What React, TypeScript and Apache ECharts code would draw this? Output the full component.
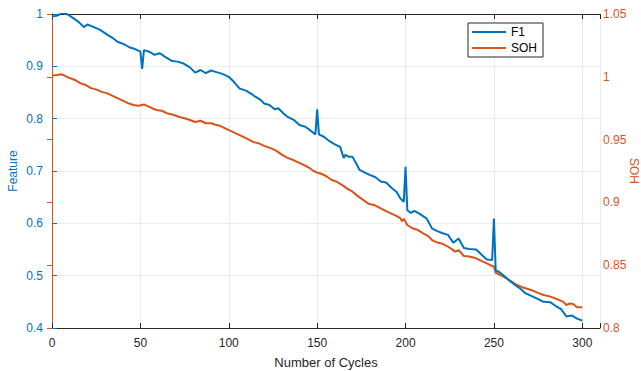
import React, { useEffect, useRef } from "react";
import * as echarts from "echarts";

const f1Cycles = [0,3,6,9,12,15,18,20,23,27,31,34,37,41,44,47,50,51,52,55,58,61,64,68,71,74,78,81,84,87,90,93,96,100,103,106,110,113,115,118,120,123,126,128,131,133,137,140,143,146,149,150,151,154,157,160,163,165,166,168,170,172,174,177,180,183,186,189,192,195,197,199,200,201,203,205,208,212,215,218,221,224,227,230,233,236,240,243,246,249,250,251,253,256,259,262,265,268,272,275,278,282,285,288,291,294,297,300];
const f1Values = [0.995,0.997,1.002,0.999,0.992,0.985,0.975,0.980,0.976,0.970,0.961,0.955,0.947,0.942,0.936,0.933,0.928,0.895,0.931,0.928,0.922,0.925,0.918,0.910,0.909,0.906,0.898,0.888,0.893,0.887,0.892,0.889,0.886,0.880,0.870,0.858,0.853,0.847,0.842,0.836,0.829,0.826,0.818,0.820,0.810,0.804,0.797,0.788,0.785,0.778,0.770,0.818,0.770,0.765,0.757,0.751,0.746,0.725,0.731,0.727,0.727,0.715,0.702,0.697,0.692,0.688,0.680,0.678,0.668,0.660,0.648,0.641,0.708,0.625,0.620,0.624,0.618,0.609,0.590,0.585,0.581,0.578,0.563,0.571,0.553,0.551,0.550,0.540,0.531,0.530,0.609,0.510,0.507,0.499,0.490,0.482,0.475,0.466,0.460,0.455,0.450,0.449,0.442,0.436,0.422,0.424,0.418,0.414];

const sohCycles = [0,3,5,7,10,13,16,19,22,25,28,31,34,37,40,43,46,49,52,55,59,62,65,69,72,75,78,81,84,87,90,92,95,98,101,104,107,110,114,117,120,124,127,130,133,136,139,142,145,148,150,152,155,158,161,164,167,170,173,176,179,182,186,189,192,195,197,198,199,201,204,207,210,213,215,218,221,224,226,228,230,233,236,239,242,245,248,250,251,254,257,260,263,267,271,275,278,282,286,289,291,293,295,297,300];
const sohValues = [1.001,1.0015,1.002,1.001,0.999,0.9975,0.995,0.9935,0.991,0.990,0.988,0.987,0.985,0.983,0.981,0.979,0.9775,0.977,0.978,0.976,0.9736,0.973,0.971,0.9696,0.968,0.967,0.9656,0.964,0.965,0.963,0.963,0.962,0.961,0.959,0.957,0.955,0.953,0.951,0.948,0.947,0.945,0.943,0.941,0.938,0.9356,0.934,0.932,0.930,0.928,0.925,0.9237,0.923,0.921,0.918,0.9165,0.914,0.911,0.9085,0.905,0.902,0.899,0.898,0.8953,0.893,0.891,0.889,0.8874,0.885,0.887,0.882,0.8794,0.878,0.8754,0.873,0.870,0.868,0.867,0.8647,0.863,0.8608,0.862,0.8573,0.857,0.856,0.854,0.852,0.850,0.849,0.844,0.842,0.8396,0.837,0.8342,0.832,0.8303,0.828,0.8263,0.825,0.8228,0.821,0.8183,0.8195,0.819,0.8165,0.8165];

const xTicks = [0, 50, 100, 150, 200, 250, 300];
const seriesNames = ["F1", "SOH"];

const BLUE = "#0072BD";
const ORANGE = "#D95319";
const DARK = "#262626";
const FONT = "Liberation Sans, Arial, sans-serif";

export default function App() {
  const ref = useRef<HTMLDivElement>(null);
  useEffect(() => {
    const chart = echarts.init(ref.current!, undefined, { renderer: "svg" });
    chart.setOption({
      animation: false,
      backgroundColor: "#ffffff",
      textStyle: { fontFamily: FONT },
      grid: { left: 52, right: 41, top: 14, bottom: 43, containLabel: false, outerBoundsMode: "none" },
      legend: {
        orient: "vertical",
        left: 468,
        top: 23,
        data: seriesNames.map((n) => ({ name: n, icon: "rect" })),
        itemWidth: 34,
        itemHeight: 2,
        itemGap: 4,
        padding: [3, 6, 3, 4],
        borderColor: DARK,
        borderWidth: 1,
        borderRadius: 0,
        backgroundColor: "#ffffff",
        textStyle: { color: "#000", fontSize: 12, fontFamily: FONT },
      },
      xAxis: [
        {
          type: "value",
          min: 0,
          max: 310,
          interval: 50,
          name: "Number of Cycles",
          nameLocation: "middle",
          nameGap: 28,
          nameMoveOverlap: false,
          nameTextStyle: { color: DARK, fontSize: 13, fontFamily: FONT },
          axisLine: { show: true, onZero: false, lineStyle: { color: DARK, width: 1 } },
          axisTick: { show: true, inside: true, length: 5, lineStyle: { color: DARK } },
          axisLabel: {
            color: DARK,
            fontSize: 12,
            margin: 9,
            formatter: (v: number) => (xTicks.includes(v) ? String(v) : ""),
          },
          splitLine: { show: true, lineStyle: { color: "#ebebeb", width: 1 } },
        },
        {
          type: "value",
          position: "top",
          min: 0,
          max: 310,
          interval: 50,
          axisLine: { show: true, onZero: false, lineStyle: { color: DARK, width: 1 } },
          axisTick: { show: true, inside: true, length: 5, lineStyle: { color: DARK } },
          axisLabel: { show: false },
          splitLine: { show: false },
        },
      ],
      yAxis: [
        {
          type: "value",
          min: 0.4,
          max: 1,
          interval: 0.1,
          position: "left",
          name: "Feature",
          nameLocation: "middle",
          nameGap: 33,
          nameMoveOverlap: false,
          nameRotate: 90,
          nameTextStyle: { color: BLUE, fontSize: 12, fontFamily: FONT },
          axisLine: { show: true, lineStyle: { color: BLUE, width: 1 } },
          axisTick: { show: true, inside: true, length: 5, lineStyle: { color: BLUE } },
          axisLabel: {
            color: BLUE,
            fontSize: 12,
            margin: 9,
            formatter: (v: number) => String(Math.round(v * 10) / 10),
          },
          splitLine: { show: true, lineStyle: { color: "#e6edf4", width: 1 } },
        },
        {
          type: "value",
          min: 0.8,
          max: 1.05,
          interval: 0.05,
          position: "right",
          name: "SOH",
          nameLocation: "middle",
          nameGap: 28,
          nameMoveOverlap: false,
          nameRotate: -90,
          nameTextStyle: { color: ORANGE, fontSize: 12, fontFamily: FONT },
          axisLine: { show: true, lineStyle: { color: ORANGE, width: 1 } },
          axisTick: { show: true, inside: true, length: 5, lineStyle: { color: ORANGE } },
          axisLabel: {
            color: ORANGE,
            fontSize: 12,
            margin: 3,
            formatter: (v: number) => String(Math.round(v * 100) / 100),
          },
          splitLine: { show: false },
        },
      ],
      series: [
        {
          name: seriesNames[0],
          type: "line",
          xAxisIndex: 0,
          yAxisIndex: 0,
          symbol: "none",
          data: f1Cycles.map((c, i) => [c, f1Values[i]]),
          lineStyle: { color: BLUE, width: 2 },
          itemStyle: { color: BLUE },
          z: 3,
        },
        {
          name: seriesNames[1],
          type: "line",
          xAxisIndex: 0,
          yAxisIndex: 1,
          symbol: "none",
          data: sohCycles.map((c, i) => [c, sohValues[i]]),
          lineStyle: { color: ORANGE, width: 2 },
          itemStyle: { color: ORANGE },
          z: 2,
        },
      ],
    });
    return () => chart.dispose();
  }, []);
  return <div ref={ref} style={{ width: 641, height: 371, position: "absolute", left: 0, top: 0 }} />;
}
